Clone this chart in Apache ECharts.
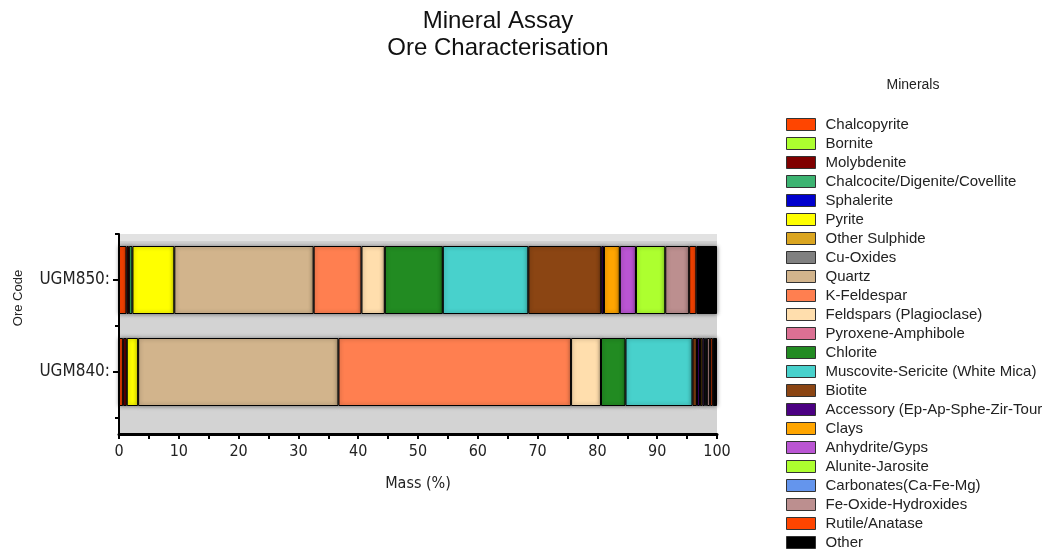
<!DOCTYPE html>
<html>
<head>
<meta charset="utf-8">
<script src="https://cdn.jsdelivr.net/npm/echarts@6/dist/echarts.min.js"></script>
<style>html,body{margin:0;padding:0;background:#fff;}#chart{width:1047px;height:550px;}</style>
</head>
<body>
<div id="chart"></div>
<script>
const categories = ['UGM850:', 'UGM840:'];
const minerals = ['Chalcopyrite','Bornite','Molybdenite','Chalcocite/Digenite/Covellite','Sphalerite','Pyrite','Other Sulphide','Cu-Oxides','Quartz','K-Feldespar','Feldspars (Plagioclase)','Pyroxene-Amphibole','Chlorite','Muscovite-Sericite (White Mica)','Biotite','Accessory (Ep-Ap-Sphe-Zir-Tour','Clays','Anhydrite/Gyps','Alunite-Jarosite','Carbonates(Ca-Fe-Mg)','Fe-Oxide-Hydroxides','Rutile/Anatase','Other'];
const colors = ['#FF4500','#ADFF2F','#800000','#3CB371','#0000CD','#FFFF00','#DAA520','#808080','#D2B48C','#FF7F50','#FFDEAD','#DB7093','#228B22','#48D1CC','#8B4513','#4B0082','#FFA500','#BA55D3','#ADFF2F','#6495ED','#BC8F8F','#FF4500','#000000'];
const ugm850 = [1.25,0,0.4,0.6,0,7.0,0,0,23.3,8.0,3.9,0,9.7,14.3,12.2,0.45,2.65,2.7,4.9,0,4.0,1.2,3.45];
const ugm840 = [0.7,0,0.6,0,0,1.9,0,0,33.5,38.9,5.0,0,4.1,11.2,0.75,0.5,0.4,0.35,0.15,0.25,0.55,0.45,0.7];
const xTicks = {min: 0, max: 100, interval: 10};

const narrow = "'Liberation Sans Narrow','DejaVu Sans Condensed','Liberation Sans',sans-serif";
const sans = "'Liberation Sans',Arial,sans-serif";

const series = minerals.map((m, i) => ({
  name: m,
  type: 'bar',
  stack: 'total',
  xAxisIndex: 1,
  yAxisIndex: 0,
  barWidth: 68,
  color: colors[i],
  itemStyle: {borderColor: '#000', borderWidth: 1, shadowColor: 'rgba(0,0,0,0.45)', shadowBlur: 4},
  emphasis: {disabled: true},
  data: [ugm850[i] || '-', ugm840[i] || '-']
}));

const chart = echarts.init(document.getElementById('chart'), null, {renderer: 'canvas'});
chart.setOption({
  animation: false,
  backgroundColor: '#fff',
  title: [
    {text: 'Mineral Assay\nOre Characterisation', left: 498, top: 8, textAlign: 'center', padding: 0,
     textStyle: {fontFamily: sans, fontSize: 24, fontWeight: 'normal', color: '#111', lineHeight: 27}},
    {text: 'Minerals', left: 913, top: 78, textAlign: 'center', padding: 0,
     textStyle: {fontFamily: sans, fontSize: 14, fontWeight: 'normal', color: '#222'}}
  ],
  legend: {
    orient: 'vertical', left: 786, top: 115, height: 470, padding: 0,
    itemWidth: 29, itemHeight: 12, itemGap: 0, selectedMode: false,
    data: minerals.map(m => ({name: m, icon: 'rect'})),
    itemStyle: {borderColor: '#333', borderWidth: 1, shadowBlur: 0, shadowColor: 'transparent'},
    textStyle: {fontFamily: sans, fontSize: 15, color: '#222', lineHeight: 19, padding: [0,0,0,5]}
  },
  grid: [
    {left: 119, width: 598, top: 234, height: 184, show: false},
    {left: 119, width: 598, top: 234, height: 200, show: true, borderWidth: 0,
     backgroundColor: {type: 'linear', x: 0, y: 0, x2: 0, y2: 1, colorStops: [
       {offset: 0, color: '#e2e2e2'}, {offset: 0.035, color: '#e2e2e2'},
       {offset: 0.036, color: '#d3d3d3'}, {offset: 1, color: '#d3d3d3'}]}}
  ],
  graphic: [
    {type: 'text', x: 18, y: 298, rotation: Math.PI / 2,
     style: {text: 'Ore Code', fill: '#222', font: "13px 'Liberation Sans', Arial, sans-serif", align: 'center', verticalAlign: 'middle'}}
  ],
  xAxis: [
    {type: 'value', gridIndex: 1, min: xTicks.min, max: xTicks.max, interval: xTicks.interval,
     name: 'Mass (%)', nameLocation: 'middle', nameGap: 42,
     nameTextStyle: {fontFamily: narrow, fontSize: 16, color: '#222'},
     axisLine: {show: true, lineStyle: {color: '#000', width: 3}},
     axisTick: {show: true, length: 5, lineStyle: {color: '#000', width: 2}},
     minorTick: {show: true, splitNumber: 2, length: 5, lineStyle: {color: '#000', width: 2}},
     axisLabel: {fontFamily: narrow, fontSize: 16, color: '#222', margin: 10},
     splitLine: {show: false}},
    {type: 'value', gridIndex: 0, min: xTicks.min, max: xTicks.max, show: false}
  ],
  yAxis: [
    {type: 'category', gridIndex: 0, inverse: true, data: categories, position: 'left',
     axisLine: {show: false},
     axisTick: {show: true, length: 4, lineStyle: {color: '#000', width: 2}},
     axisLabel: {fontFamily: narrow, fontSize: 17, color: '#222', margin: 9}},
    {type: 'category', gridIndex: 0, inverse: true, data: categories, position: 'left',
     axisLine: {show: false}, axisLabel: {show: false},
     axisTick: {show: true, alignWithLabel: true, length: 6, lineStyle: {color: '#000', width: 2}}},
    {type: 'value', gridIndex: 1, min: 0, max: 1, position: 'left',
     axisLine: {show: true, lineStyle: {color: '#000', width: 2}},
     axisTick: {show: false}, axisLabel: {show: false}, splitLine: {show: false}}
  ],
  series: series
});
</script>
</body>
</html>
